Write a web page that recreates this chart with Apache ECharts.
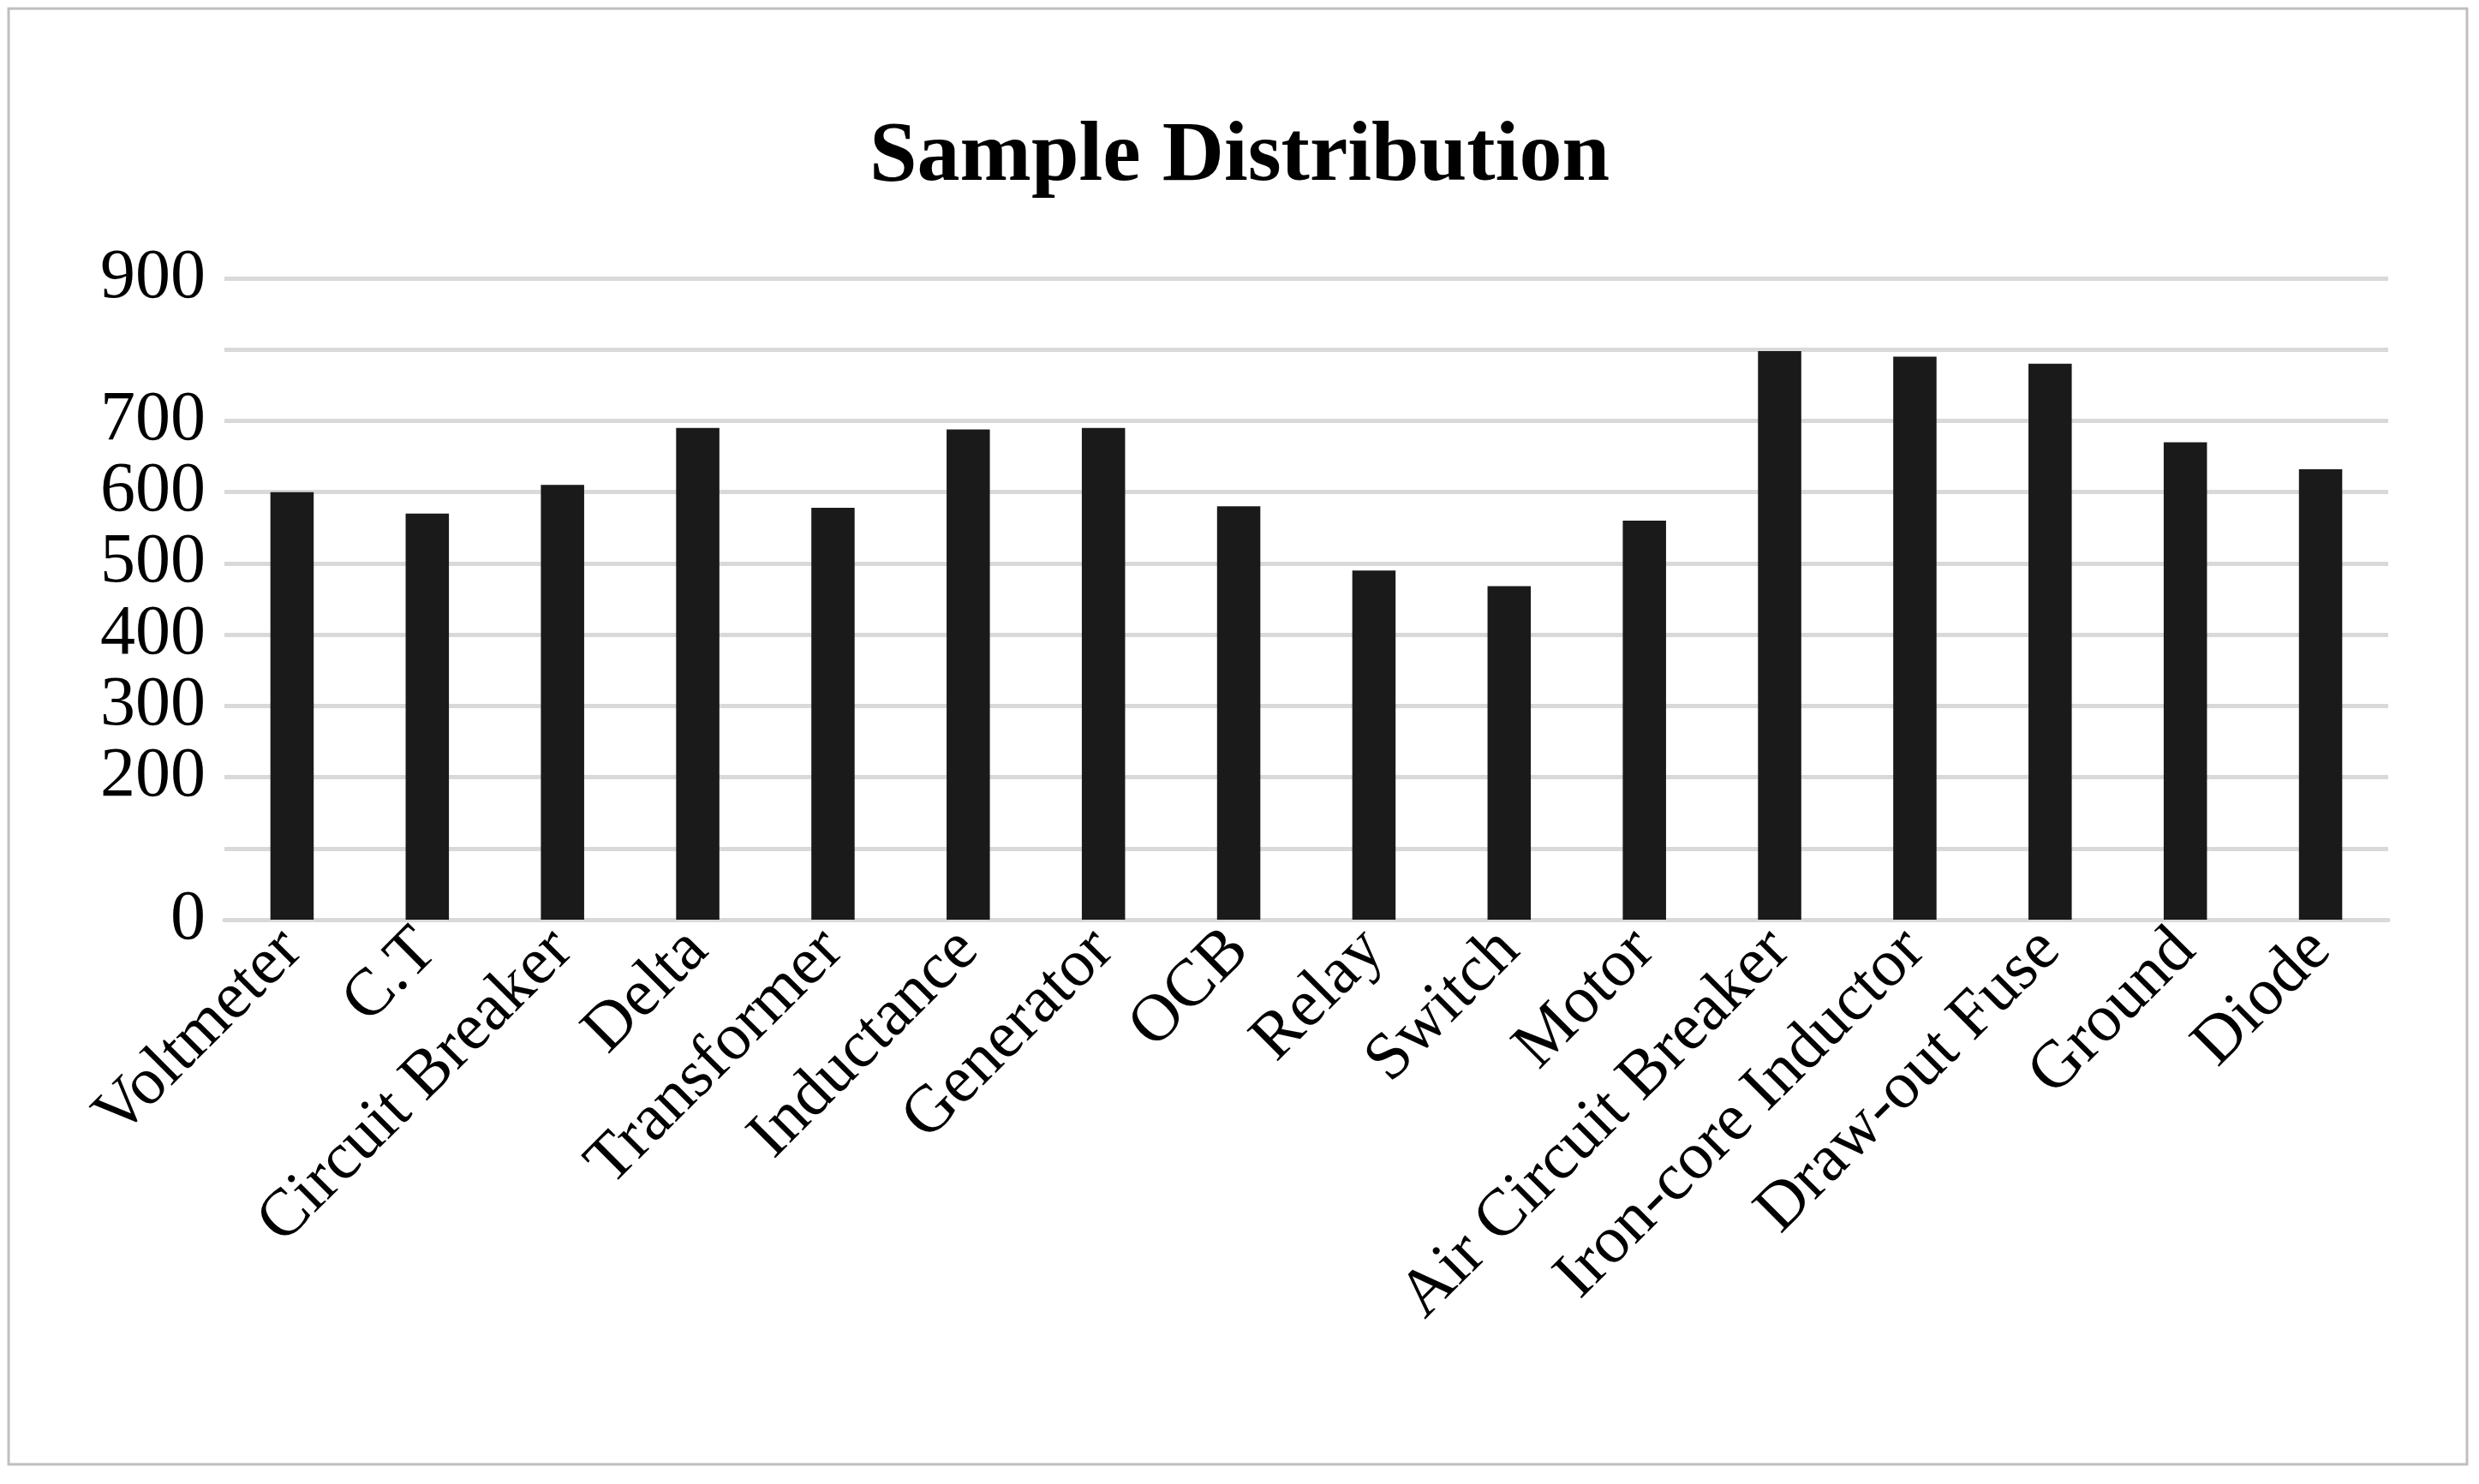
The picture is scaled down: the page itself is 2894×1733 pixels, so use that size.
<!DOCTYPE html>
<html>
<head>
    <script src="https://cdn.jsdelivr.net/npm/echarts@6/dist/echarts.min.js"></script>
</head>
<body style="margin:0">
    <div id="chart" style="width:2894px;height:1733px;background:#fff"></div>
<script>
    const categories = ['Voltmeter', 'C.T', 'Circuit Breaker', 'Delta', 'Transformer', 'Inductance', 'Generator', 'OCB',
        'Relay', 'Switch', 'Motor', 'Air Circuit Breaker', 'Iron-core Inductor', 'Draw-out Fuse', 'Ground', 'Diode']
    const samples = [600, 570, 610, 690, 578, 688, 690, 580, 490, 468, 560, 798, 790, 780, 670, 632]

    const chart = echarts.init(document.getElementById('chart'))
    const font = 'Liberation Serif'
    chart.setOption({
        title: {
            text: 'Sample Distribution',
            left: 'center',
            top: 100,
            textStyle: { fontFamily: font, fontSize: 100, fontWeight: 'bold', color: '#000' }
        },
        graphic: [{
            type: 'rect',
            shape: { x: 10, y: 10, width: 2870, height: 1700 },
            style: { fill: 'none', stroke: '#bfbfbf', lineWidth: 3 }
        }],
        grid: { left: 262, right: 106, top: 325, bottom: 659 },
        xAxis: {
            type: 'category',
            data: categories,
            axisLine: { lineStyle: { color: '#d9d9d9', width: 5 } },
            axisTick: { show: false },
            axisLabel: { interval: 0, rotate: 45, fontFamily: font, fontSize: 78, color: '#000', margin: 24 }
        },
        yAxis: {
            type: 'value',
            min: 0,
            max: 900,
            interval: 100,
            axisLine: { show: false },
            axisTick: { show: false },
            splitLine: { lineStyle: { color: '#d9d9d9', width: 5 } },
            axisLabel: {
                fontFamily: font, fontSize: 82, color: '#000', margin: 22,
                showMinLabel: true, showMaxLabel: true, hideOverlap: false
            }
        },
        series: [{
            type: 'bar',
            data: samples,
            barWidth: '32%',
            itemStyle: { color: '#1a1a1a' }
        }]
    })
</script>
</body>
</html>
